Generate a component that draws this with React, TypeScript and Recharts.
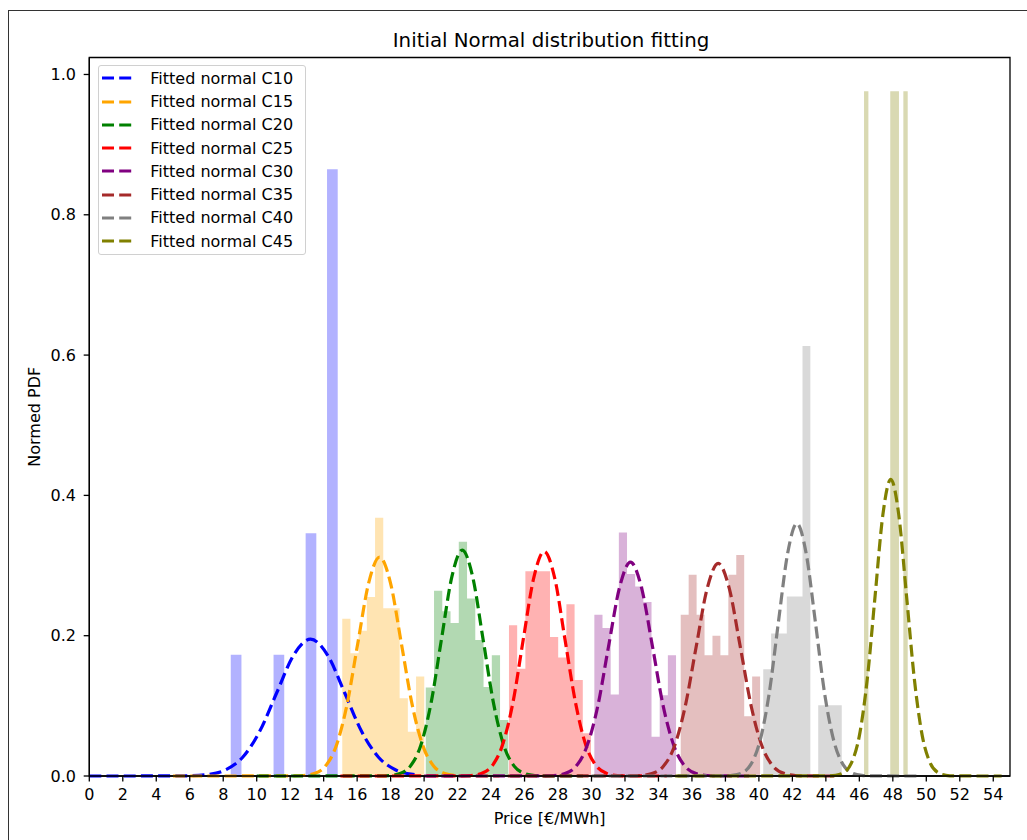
import {
  ComposedChart,
  Area,
  Line,
  XAxis,
  YAxis,
  Legend,
  Label,
  ReferenceArea,
} from "recharts"

// bin range [first edge, last edge] and normed heights (10 bins each)
const histRangeC10 = [8.45, 14.84]
const histC10 = [0.173, 0, 0, 0, 0.173, 0, 0, 0.346, 0, 0.865]
const histRangeC15 = [15.11, 20.01]
const histC15 = [0.224, 0.175, 0.207, 0.255, 0.368, 0.239, 0.239, 0.111, 0.063, 0.142]
const histRangeC20 = [20.1, 25.03]
const histC20 = [0.126, 0.264, 0.235, 0.218, 0.334, 0.253, 0.194, 0.127, 0.172, 0.08]
const histRangeC25 = [25.07, 29.97]
const histC25 = [0.215, 0.153, 0.292, 0.292, 0.292, 0.198, 0.169, 0.245, 0.137, 0.061]
const histRangeC30 = [30.17, 35.05]
const histC30 = [0.23, 0.211, 0.116, 0.347, 0.288, 0.27, 0.248, 0.056, 0.115, 0.172]
const histRangeC35 = [35.33, 40.07]
const histC35 = [0.23, 0.287, 0.23, 0.172, 0.2, 0.172, 0.287, 0.315, 0.085, 0.142]
const histRangeC40 = [40.26, 44.95]
const histC40 = [0.152, 0.203, 0.203, 0.256, 0.256, 0.613, 0, 0.101, 0.101, 0.101]
const histRangeC45 = [46.28, 48.89]
const histC45 = [0.976, 0, 0, 0, 0, 0, 0.976, 0.976, 0, 0.976]

// fitted normal curves, [price, pdf]
const fitC10 = [
  [0, 0], [5.08, 0.0001], [6.1, 0.0004], [7.12, 0.0022], [8.13, 0.0086], [9.15, 0.0264],
  [10.17, 0.0633], [11.19, 0.1183], [12.2, 0.1721], [13.22, 0.195], [14.24, 0.1721],
  [15.26, 0.1183], [16.27, 0.0633], [17.29, 0.0264], [18.31, 0.0086], [19.33, 0.0022], [19.5, 0.0017],
]
const fitC15 = [
  [5, 0], [12.14, 0.0001], [12.79, 0.0007], [13.44, 0.0035], [14.09, 0.0137], [14.74, 0.0422],
  [15.39, 0.1013], [16.04, 0.1892], [16.69, 0.2753], [17.34, 0.312], [17.99, 0.2753],
  [18.64, 0.1892], [19.29, 0.1013], [19.94, 0.0422], [20.59, 0.0137], [21.24, 0.0035],
  [21.89, 0.0007], [22.54, 0.0001], [24.5, 0],
]
const fitC20 = [
  [10, 0], [17.32, 0.0001], [17.94, 0.0007], [18.56, 0.0036], [19.18, 0.0141], [19.8, 0.0436],
  [20.42, 0.1046], [21.04, 0.1953], [21.66, 0.2842], [22.28, 0.322], [22.9, 0.2842],
  [23.52, 0.1953], [24.14, 0.1046], [24.76, 0.0436], [25.38, 0.0141], [26.0, 0.0036],
  [26.62, 0.0007], [27.24, 0.0001], [29.5, 0],
]
const fitC25 = [
  [15, 0], [22.17, 0.0001], [22.8, 0.0007], [23.42, 0.0036], [24.05, 0.014], [24.67, 0.0433],
  [25.3, 0.1039], [25.92, 0.1941], [26.55, 0.2824], [27.17, 0.32], [27.8, 0.2824],
  [28.42, 0.1941], [29.05, 0.1039], [29.67, 0.0433], [30.3, 0.014], [30.92, 0.0036],
  [31.55, 0.0007], [32.17, 0.0001], [34.5, 0],
]
const fitC30 = [
  [20, 0], [27.1, 0.0001], [27.75, 0.0007], [28.41, 0.0034], [29.06, 0.0134], [29.71, 0.0413],
  [30.37, 0.099], [31.02, 0.185], [31.68, 0.2692], [32.33, 0.305], [32.98, 0.2692],
  [33.64, 0.185], [34.29, 0.099], [34.95, 0.0413], [35.6, 0.0134], [36.25, 0.0034],
  [36.91, 0.0007], [37.56, 0.0001], [39.5, 0],
]
const fitC35 = [
  [25, 0], [32.29, 0.0001], [32.95, 0.0007], [33.61, 0.0034], [34.27, 0.0133], [34.93, 0.041],
  [35.59, 0.0984], [36.25, 0.1838], [36.91, 0.2674], [37.57, 0.303], [38.23, 0.2674],
  [38.89, 0.1838], [39.55, 0.0984], [40.21, 0.041], [40.87, 0.0133], [41.53, 0.0034],
  [42.19, 0.0007], [42.85, 0.0001], [44.5, 0],
]
const fitC40 = [
  [30, 0], [37.84, 0.0001], [38.39, 0.0008], [38.95, 0.004], [39.5, 0.0158], [40.05, 0.0487],
  [40.61, 0.1169], [41.16, 0.2183], [41.72, 0.3177], [42.27, 0.36], [42.82, 0.3177],
  [43.38, 0.2183], [43.93, 0.1169], [44.49, 0.0487], [45.04, 0.0158], [45.59, 0.004],
  [46.15, 0.0008], [46.7, 0.0001], [49.5, 0],
]
const fitC45 = [
  [35, 0], [44.12, 0.0001], [44.59, 0.0009], [45.06, 0.0047], [45.53, 0.0186], [46.0, 0.0572],
  [46.47, 0.1373], [46.94, 0.2565], [47.41, 0.3733], [47.88, 0.423], [48.35, 0.3733],
  [48.82, 0.2565], [49.29, 0.1373], [49.76, 0.0572], [50.23, 0.0186], [50.7, 0.0047],
  [51.17, 0.0009], [51.64, 0.0001], [54.5, 0],
]

const xTicks = [0, 2, 4, 6, 8, 10, 12, 14, 16, 18, 20, 22, 24, 26, 28, 30, 32, 34, 36, 38, 40, 42, 44, 46, 48, 50, 52, 54]
const yTicks = [0, 0.2, 0.4, 0.6, 0.8, 1.0]

// step points for an Area drawn as a histogram
function histPoints(range: number[], heights: number[]) {
  const w = (range[1] - range[0]) / heights.length
  const pts = heights.map((h, i) => ({ x: range[0] + i * w, y: h }))
  pts.push({ x: range[1], y: heights[heights.length - 1] })
  return pts
}

const toPoints = (arr: number[][]) => arr.map(([x, y]) => ({ x, y }))

const groups = [
  { name: "C10", color: "#0000ff", hist: histPoints(histRangeC10, histC10), fit: toPoints(fitC10) },
  { name: "C15", color: "#ffa500", hist: histPoints(histRangeC15, histC15), fit: toPoints(fitC15) },
  { name: "C20", color: "#008000", hist: histPoints(histRangeC20, histC20), fit: toPoints(fitC20) },
  { name: "C25", color: "#ff0000", hist: histPoints(histRangeC25, histC25), fit: toPoints(fitC25) },
  { name: "C30", color: "#800080", hist: histPoints(histRangeC30, histC30), fit: toPoints(fitC30) },
  { name: "C35", color: "#a52a2a", hist: histPoints(histRangeC35, histC35), fit: toPoints(fitC35) },
  { name: "C40", color: "#808080", hist: histPoints(histRangeC40, histC40), fit: toPoints(fitC40) },
  { name: "C45", color: "#808000", hist: histPoints(histRangeC45, histC45), fit: toPoints(fitC45) },
]

const FONT = "'DejaVu Sans', sans-serif"
const LW = 3.2

function FitLegend() {
  return (
    <div
      style={{
        width: 207.7,
        boxSizing: "border-box",
        padding: "1.1px 0",
        border: "1px solid #d0d0d0",
        borderRadius: 3,
        background: "rgba(255,255,255,0.8)",
        fontFamily: FONT,
        fontSize: 16,
        color: "#000",
      }}
    >
      {groups.map(g => (
        <div key={g.name} style={{ height: 23.25, display: "flex", alignItems: "center" }}>
          <svg width={36} height={10} style={{ marginLeft: 2.2, flex: "none" }}>
            <line x1={1} y1={5} x2={34} y2={5} stroke={g.color} strokeWidth={LW} strokeDasharray="12 5.2" />
          </svg>
          <span style={{ marginLeft: 12.8, whiteSpace: "nowrap" }}>Fitted normal {g.name}</span>
        </div>
      ))}
    </div>
  )
}

export default function App() {
  return (
    <div
      style={{
        position: "fixed",
        left: 0,
        top: 0,
        width: 1027,
        height: 840,
        overflow: "hidden",
        background: "#fff",
        fontFamily: FONT,
      }}
    >
      <div
        style={{
          position: "absolute",
          left: 7.5,
          top: 10,
          width: 1100,
          height: 900,
          border: "1.5px solid #333",
        }}
      />
      <div
        style={{
          position: "absolute",
          left: 551,
          top: 30.5,
          transform: "translateX(-50%)",
          fontSize: 19.8,
          lineHeight: 1,
          whiteSpace: "nowrap",
          color: "#000",
        }}
      >
        Initial Normal distribution fitting
      </div>
      <div style={{ position: "absolute", left: 0, top: 0 }}>
        <ComposedChart width={1027} height={840} margin={{ top: 57.5, right: 17, bottom: 14, left: 29.3 }}>
          <XAxis
            type="number"
            dataKey="x"
            domain={[0, 55]}
            ticks={xTicks}
            interval={0}
            height={50}
            tickSize={5.6}
            tickMargin={7.5}
            stroke="#000"
            strokeWidth={1.3}
            tick={{ fill: "#000", fontSize: 16 }}
          >
            <Label value="Price [€/MWh]" position="insideBottom" offset={2} fill="#000" fontSize={16} />
          </XAxis>
          <YAxis
            type="number"
            domain={[0, 1.0242]}
            ticks={yTicks}
            tickFormatter={(v: number) => v.toFixed(1)}
            width={60}
            tickSize={5.6}
            tickMargin={7.7}
            stroke="#000"
            strokeWidth={1.3}
            tick={{ fill: "#000", fontSize: 16 }}
          >
            <Label
              value="Normed PDF"
              angle={-90}
              position="insideLeft"
              offset={5}
              fill="#000"
              fontSize={16}
              style={{ textAnchor: "middle" }}
            />
          </YAxis>
          {groups.map(g => (
            <Area
              key={"hist" + g.name}
              data={g.hist}
              dataKey="y"
              type="stepAfter"
              stroke="none"
              fill={g.color}
              fillOpacity={0.3}
              legendType="none"
              isAnimationActive={false}
            />
          ))}
          {groups.map(g => (
            <Line
              key={"fit" + g.name}
              data={g.fit}
              dataKey="y"
              name={`Fitted normal ${g.name}`}
              type="monotone"
              stroke={g.color}
              strokeWidth={LW}
              strokeDasharray="12 5.2"
              dot={false}
              activeDot={false}
              isAnimationActive={false}
            />
          ))}
          <ReferenceArea x1={0} x2={55} y1={0} y2={1.0242} fill="none" stroke="#000" strokeWidth={1.3} />
          <Legend
            layout="vertical"
            align="center"
            verticalAlign="middle"
            content={() => <FitLegend />}
            wrapperStyle={{ left: 98.3, top: 64.7, width: "auto" }}
          />
        </ComposedChart>
      </div>
    </div>
  )
}
